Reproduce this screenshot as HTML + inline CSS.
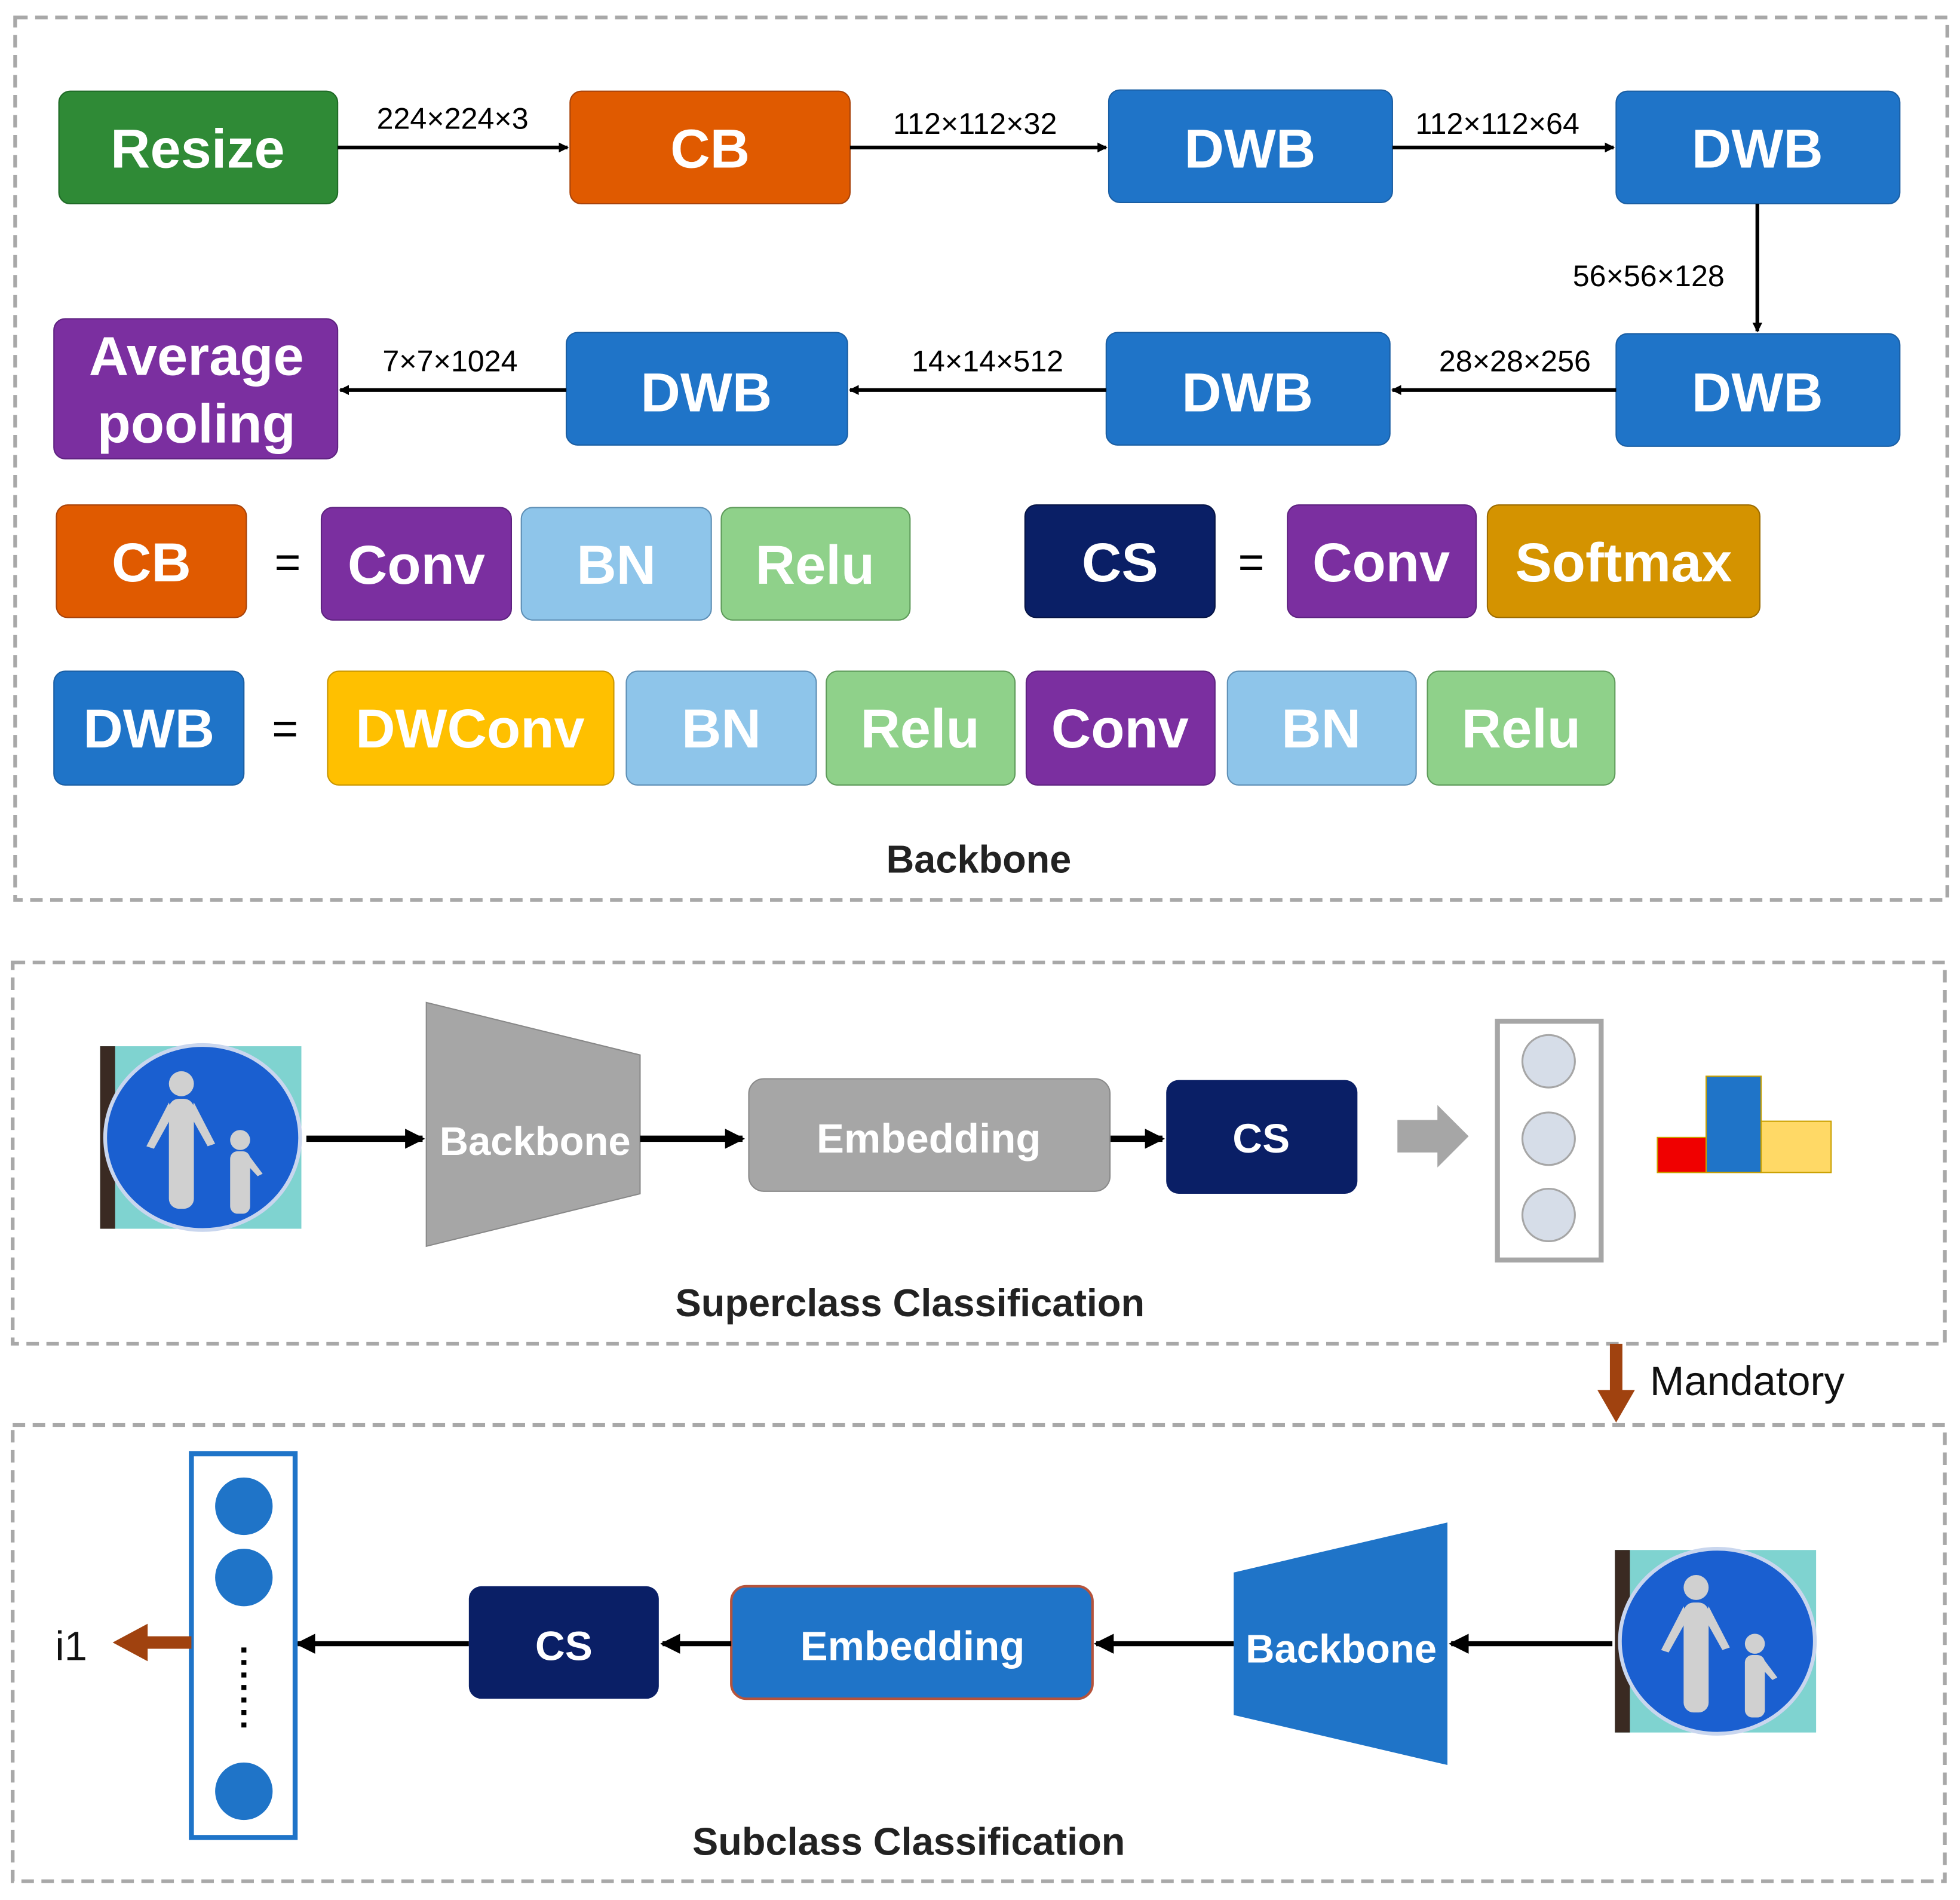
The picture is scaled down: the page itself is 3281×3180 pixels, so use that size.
<!DOCTYPE html>
<html><head><meta charset="utf-8"><style>html,body{margin:0;padding:0;background:#fff}svg{display:block}</style></head><body>
<svg width="3281" height="3180" viewBox="0 0 1568 1520" xmlns="http://www.w3.org/2000/svg" font-family="Liberation Sans, sans-serif">
<defs>
<marker id="ah" markerWidth="8" markerHeight="8" refX="7" refY="4" orient="auto" markerUnits="userSpaceOnUse"><path d="M0,0 L8,4 L0,8z" fill="#000"/></marker>
<marker id="ah2" markerWidth="16" markerHeight="16" refX="14" refY="8" orient="auto" markerUnits="userSpaceOnUse"><path d="M0,0 L16,8 L0,16z" fill="#000"/></marker>
<g id="sign">
<rect x="0" y="0" width="161" height="146" fill="#7fd3d0"/><rect x="0" y="0" width="12" height="146" fill="#3a2a22"/>
<ellipse cx="82" cy="73" rx="78" ry="74" fill="#1a5fd0" stroke="#c9d6ee" stroke-width="3"/>
<g fill="#d0d0d0"><circle cx="65" cy="30" r="10"/><rect x="55" y="42" width="20" height="88" rx="8"/><path d="M55,45 L37,80 L43,82 L58,55z"/><path d="M75,45 L92,78 L86,80 L72,55z"/>
<circle cx="112" cy="75" r="8"/><rect x="104" y="84" width="16" height="50" rx="6"/><path d="M118,86 L130,102 L126,104 L115,92z"/></g>
</g>
</defs>
<g fill="none" stroke="#a8a8a8" stroke-width="3" stroke-dasharray="10,6">
<rect x="12" y="14" width="1546" height="706"/>
<rect x="10" y="770" width="1546" height="305"/>
<rect x="10" y="1140" width="1546" height="365"/>
</g>
<g font-weight="bold" fill="#fff" font-size="44" text-anchor="middle">
<rect x="47" y="73" width="223" height="90" rx="9" fill="#2f8a36" stroke="#1f6a26"/><text x="158" y="134">Resize</text>
<rect x="456" y="73" width="224" height="90" rx="9" fill="#e05a00" stroke="#a8430a"/><text x="568" y="134">CB</text>
<rect x="887" y="72" width="227" height="90" rx="9" fill="#1f74c8" stroke="#1a5ea3"/><text x="1000" y="134">DWB</text>
<rect x="1293" y="73" width="227" height="90" rx="9" fill="#1f74c8" stroke="#1a5ea3"/><text x="1406" y="134">DWB</text>
<rect x="43" y="255" width="227" height="112" rx="9" fill="#7b2fa0" stroke="#5e2280"/><text x="157" y="300">Average</text><text x="157" y="354">pooling</text>
<rect x="453" y="266" width="225" height="90" rx="9" fill="#1f74c8" stroke="#1a5ea3"/><text x="565" y="329">DWB</text>
<rect x="885" y="266" width="227" height="90" rx="9" fill="#1f74c8" stroke="#1a5ea3"/><text x="998" y="329">DWB</text>
<rect x="1293" y="267" width="227" height="90" rx="9" fill="#1f74c8" stroke="#1a5ea3"/><text x="1406" y="329">DWB</text>

<rect x="45" y="404" width="152" height="90" rx="9" fill="#e05a00" stroke="#a8430a"/><text x="121" y="465">CB</text>
<rect x="257" y="406" width="152" height="90" rx="9" fill="#7b2fa0" stroke="#5e2280"/><text x="333" y="467">Conv</text>
<rect x="417" y="406" width="152" height="90" rx="9" fill="#8ec5ea" stroke="#5e8fb5"/><text x="493" y="467">BN</text>
<rect x="577" y="406" width="151" height="90" rx="9" fill="#8fd18a" stroke="#5e9a5a"/><text x="652" y="467">Relu</text>
<rect x="820" y="404" width="152" height="90" rx="9" fill="#0a1f66" stroke="#061445"/><text x="896" y="465">CS</text>
<rect x="1030" y="404" width="151" height="90" rx="9" fill="#7b2fa0" stroke="#5e2280"/><text x="1105" y="465">Conv</text>
<rect x="1190" y="404" width="218" height="90" rx="9" fill="#d49300" stroke="#9c6c00"/><text x="1299" y="465">Softmax</text>

<rect x="43" y="537" width="152" height="91" rx="9" fill="#1f74c8" stroke="#1a5ea3"/><text x="119" y="598">DWB</text>
<rect x="262" y="537" width="229" height="91" rx="9" fill="#ffc000" stroke="#c99600"/><text x="376" y="598">DWConv</text>
<rect x="501" y="537" width="152" height="91" rx="9" fill="#8ec5ea" stroke="#5e8fb5"/><text x="577" y="598">BN</text>
<rect x="661" y="537" width="151" height="91" rx="9" fill="#8fd18a" stroke="#5e9a5a"/><text x="736" y="598">Relu</text>
<rect x="821" y="537" width="151" height="91" rx="9" fill="#7b2fa0" stroke="#5e2280"/><text x="896" y="598">Conv</text>
<rect x="982" y="537" width="151" height="91" rx="9" fill="#8ec5ea" stroke="#5e8fb5"/><text x="1057" y="598">BN</text>
<rect x="1142" y="537" width="150" height="91" rx="9" fill="#8fd18a" stroke="#5e9a5a"/><text x="1217" y="598">Relu</text>
</g>
<g font-size="36" text-anchor="middle" fill="#000"><text x="230" y="462">=</text><text x="1001" y="462">=</text><text x="228" y="595">=</text></g>
<g stroke="#000" stroke-width="3" marker-end="url(#ah)">
<line x1="270" y1="118" x2="454" y2="118"/><line x1="680" y1="118" x2="885" y2="118"/><line x1="1114" y1="118" x2="1291" y2="118"/>
<line x1="1406" y1="163" x2="1406" y2="265"/>
<line x1="1293" y1="312" x2="1114" y2="312"/><line x1="885" y1="312" x2="680" y2="312"/><line x1="453" y1="312" x2="272" y2="312"/>
</g>
<g font-size="24" fill="#000" text-anchor="middle">
<text x="362" y="103">224×224×3</text><text x="780" y="107">112×112×32</text><text x="1198" y="107">112×112×64</text>
<text x="1319" y="229">56×56×128</text><text x="1212" y="297">28×28×256</text><text x="790" y="297">14×14×512</text><text x="360" y="297">7×7×1024</text>
</g>
<text x="783" y="698" font-size="31" font-weight="bold" text-anchor="middle" fill="#222">Backbone</text>

<!-- middle -->
<use href="#sign" x="80" y="837"/>
<path d="M341,802 L512,844 L512,955 L341,997z" fill="#a6a6a6" stroke="#888"/>
<text x="428" y="924" font-size="32" font-weight="bold" fill="#fff" text-anchor="middle">Backbone</text>
<g stroke="#000" stroke-width="5" marker-end="url(#ah2)">
<line x1="245" y1="911" x2="338" y2="911"/><line x1="512" y1="911" x2="594" y2="911"/><line x1="888" y1="911" x2="930" y2="911"/>
</g>
<rect x="599" y="863" width="289" height="90" rx="12" fill="#a6a6a6" stroke="#8a8a8a"/>
<text x="743" y="922" font-size="33" font-weight="bold" fill="#fff" text-anchor="middle">Embedding</text>
<rect x="933" y="864" width="153" height="91" rx="10" fill="#0a1f66"/>
<text x="1009" y="922" font-size="33" font-weight="bold" fill="#fff" text-anchor="middle">CS</text>
<path d="M1118,896 L1150,896 L1150,884 L1175,909 L1150,934 L1150,922 L1118,922z" fill="#a6a6a6"/>
<rect x="1198" y="817" width="83" height="191" fill="#fff" stroke="#a6a6a6" stroke-width="4"/>
<g fill="#d6dde8" stroke="#a6a6a6" stroke-width="1.5"><circle cx="1239" cy="849" r="21"/><circle cx="1239" cy="911" r="21"/><circle cx="1239" cy="972" r="21"/></g>
<rect x="1326" y="910" width="39" height="28" fill="#f00000" stroke="#c9a000"/>
<rect x="1365" y="861" width="44" height="77" fill="#1f74c8" stroke="#c9a000"/>
<rect x="1409" y="897" width="56" height="41" fill="#ffd966" stroke="#c9a000"/>
<text x="728" y="1053" font-size="31" font-weight="bold" text-anchor="middle" fill="#222">Superclass Classification</text>
<path d="M1288,1075 L1298,1075 L1298,1112 L1308,1112 L1293,1138 L1278,1112 L1288,1112z" fill="#a0420f"/>
<text x="1320" y="1116" font-size="33" fill="#111">Mandatory</text>

<!-- bottom -->
<use href="#sign" x="1292" y="1240"/>
<path d="M987,1258 L1158,1218 L1158,1412 L987,1372z" fill="#1f74c8"/>
<text x="1073" y="1330" font-size="32" font-weight="bold" fill="#fff" text-anchor="middle">Backbone</text>
<rect x="585" y="1269" width="289" height="90" rx="12" fill="#1f74c8" stroke="#b5533c" stroke-width="2"/>
<text x="730" y="1328" font-size="33" font-weight="bold" fill="#fff" text-anchor="middle">Embedding</text>
<rect x="375" y="1269" width="152" height="90" rx="10" fill="#0a1f66"/>
<text x="451" y="1328" font-size="33" font-weight="bold" fill="#fff" text-anchor="middle">CS</text>
<g stroke="#000" stroke-width="4" marker-end="url(#ah2)">
<line x1="1290" y1="1315" x2="1161" y2="1315"/><line x1="987" y1="1315" x2="877" y2="1315"/><line x1="585" y1="1315" x2="530" y2="1315"/><line x1="375" y1="1315" x2="238" y2="1315"/>
</g>
<rect x="153" y="1163" width="83" height="307" fill="#fff" stroke="#1f74c8" stroke-width="4"/>
<g fill="#1f74c8"><circle cx="195" cy="1205" r="23"/><circle cx="195" cy="1262" r="23"/><circle cx="195" cy="1433" r="23"/></g>
<line x1="195" y1="1318" x2="195" y2="1388" stroke="#000" stroke-width="4" stroke-dasharray="4,6"/>
<path d="M153,1309 L118,1309 L118,1299 L90,1314 L118,1329 L118,1319 L153,1319z" fill="#a0420f"/>
<text x="44" y="1328" font-size="33" fill="#111">i1</text>
<text x="727" y="1484" font-size="31" font-weight="bold" text-anchor="middle" fill="#222">Subclass Classification</text>
</svg>
</body></html>
